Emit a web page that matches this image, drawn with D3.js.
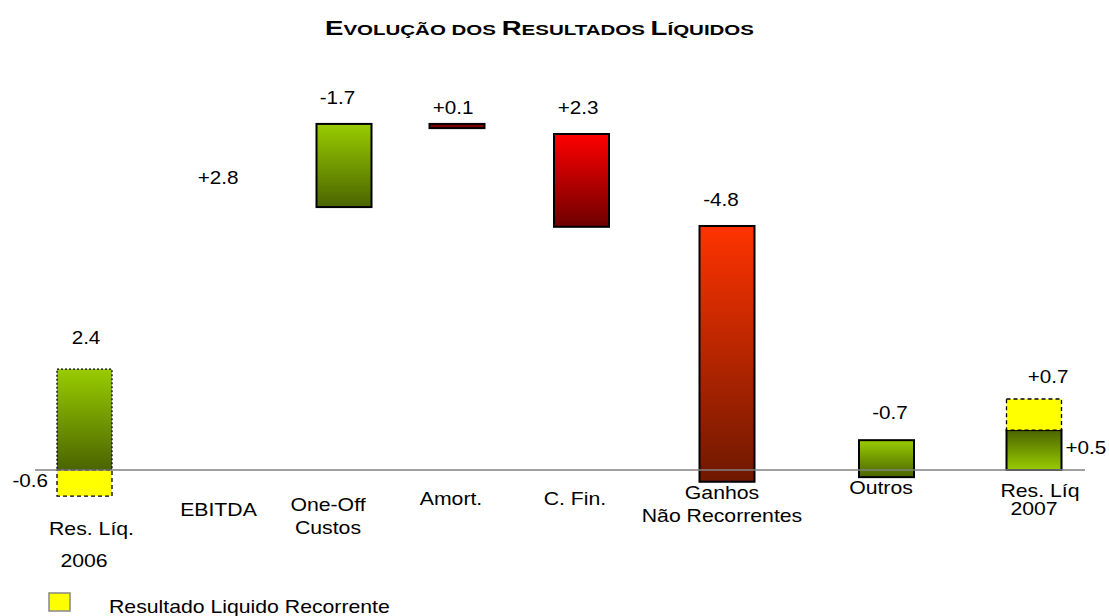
<!doctype html>
<html>
<head>
<meta charset="utf-8">
<style>
  body { margin: 0; background: #fff; }
  text { font-family: "Liberation Sans", Arial, sans-serif; fill: #000; }
  .title { font-weight: bold; }
</style>
<script src="https://cdn.jsdelivr.net/npm/d3@7"></script>
</head>
<body>
<script>

// categories (waterfall steps)
var categories = ["Res2006", "EBITDA", "OneOff", "Amort", "CFin", "Ganhos", "Outros", "Res2007"];

// axis labels, one array of lines per category
var catLabels = [["Res. Líq.", "2006"], ["EBITDA"], ["One-Off", "Custos"], ["Amort."], ["C. Fin."],
                 ["Ganhos", "Não Recorrentes"], ["Outros"], ["Res. Líq", "2007"]];

// floating bars: category, low, high (chart units), style
var barCat   = ["Res2006", "Res2006", "OneOff", "Amort", "CFin", "Ganhos", "Outros", "Res2007", "Res2007"];
var barLow   = [0,     -0.62, 6.26, 8.14, 5.79, -0.28, -0.17, 0,    0.95];
var barHigh  = [2.4,    0,    8.24, 8.24, 8.0,   5.81,  0.71, 0.95, 1.69];
var barStyle = ["green-dot", "yellow-dash", "green", "amort", "red", "orange", "green", "green-up", "yellow-dash"];

// value labels and the chart level they sit at
var valText = ["2.4", "-0.6", "+2.8", "-1.7", "+0.1", "+2.3", "-4.8", "-0.7", "+0.7", "+0.5"];
var valCat  = ["Res2006", "Res2006", "EBITDA", "OneOff", "Amort", "CFin", "Ganhos", "Outros", "Res2007", "Res2007"];
var valAt   = [3.0, -0.40, 6.81, 8.71, 8.48, 8.48, 6.29, 1.21, 2.08, 0.37];

var W = 1109, H = 616;
var stretch = 1.18;   // the original slide text is a bit wide

var svg = d3.select("body").append("svg")
    .attr("width", W)
    .attr("height", H);

var x = d3.scaleOrdinal()
    .domain(categories)
    .range([84.5, 218, 344, 457, 581.5, 727, 886.5, 1034]);

var y = d3.scaleLinear()
    .domain([-1, 9])
    .range([512, 92]);

var barW = 55;

// gradients
var defs = svg.append("defs");
function grad(id, top, bottom) {
  var g = defs.append("linearGradient").attr("id", id)
      .attr("x1", 0).attr("y1", 0).attr("x2", 0).attr("y2", 1);
  g.append("stop").attr("offset", "0%").attr("stop-color", top);
  g.append("stop").attr("offset", "100%").attr("stop-color", bottom);
}
grad("gGreen", "#99cc00", "#4a6400");
grad("gGreenUp", "#4a6400", "#99cc00");
grad("gRed", "#ff0000", "#6e0000");
grad("gOrange", "#ff3300", "#6e1800");

var styles = {
  "green-dot":   { fill: "url(#gGreen)", dash: "2,2" },
  "yellow-dash": { fill: "#ffff00", dash: "4,3" },
  "green":       { fill: "url(#gGreen)", dash: null },
  "green-up":    { fill: "url(#gGreenUp)", dash: null },
  "amort":       { fill: "#800000", dash: null },
  "red":         { fill: "url(#gRed)", dash: null },
  "orange":      { fill: "url(#gOrange)", dash: null }
};

var bars = barCat.map(function(c, i) {
  return { cat: c, lo: barLow[i], hi: barHigh[i], style: barStyle[i] };
});

// text helper: stretched horizontally around its anchor point
function label(px, py, str, size, anchor) {
  return svg.append("g")
      .attr("transform", "translate(" + px + "," + py + ") scale(" + stretch + ",1)")
    .append("text")
      .attr("text-anchor", anchor || "middle")
      .style("font-size", size + "px")
      .text(str);
}

// title
var title = svg.append("text")
    .attr("class", "title")
    .attr("x", 325)
    .attr("y", 35)
    .attr("textLength", 429)
    .attr("lengthAdjust", "spacingAndGlyphs");
[["E", 19.5], ["VOLUÇÃO DOS ", 14.5], ["R", 19.5], ["ESULTADOS ", 14.5], ["L", 19.5], ["ÍQUIDOS", 14.5]]
  .forEach(function(p) {
    title.append("tspan").style("font-size", p[1] + "px").text(p[0]);
  });

// bars
svg.selectAll("rect.bar")
  .data(bars)
  .enter().append("rect")
    .attr("class", "bar")
    .attr("x", function(d) { return x(d.cat) - barW / 2; })
    .attr("y", function(d) { return y(d.hi); })
    .attr("width", barW)
    .attr("height", function(d) { return y(d.lo) - y(d.hi); })
    .attr("fill", function(d) { return styles[d.style].fill; })
    .attr("stroke", "#000")
    .attr("stroke-width", function(d) { return styles[d.style].dash ? 1.3 : 2; })
    .attr("stroke-dasharray", function(d) { return styles[d.style].dash; });

// baseline
svg.append("line")
    .attr("x1", 35).attr("x2", 1085)
    .attr("y1", y(0)).attr("y2", y(0))
    .attr("stroke", "#808080")
    .attr("stroke-width", 1.5);

// value labels
valText.forEach(function(d, i) {
  var px = x(valCat[i]), anchor = "middle";
  if (d === "-0.6") { px = px - barW / 2 - 9; anchor = "end"; }
  else if (d === "+0.5") { px = px + barW / 2 + 4; anchor = "start"; }
  else if (valCat[i] === "Res2006") px += 1.5;
  else if (valCat[i] === "OneOff") px -= 6.5;
  else if (valCat[i] === "Amort") px -= 4;
  else if (valCat[i] === "CFin") px -= 3.5;
  else if (valCat[i] === "Ganhos") px -= 6;
  else if (valCat[i] === "Outros") px += 3.5;
  else if (valCat[i] === "Res2007") px += 14;
  label(px, y(valAt[i]), d, 17.5, anchor);
});

// category labels, staggered like the original slide
var labelX1   = [91.5, 218.5, 328, 451, 575, 722, 881, 1040];
var labelX2   = [84, 0, 328, 0, 0, 722, 0, 1034];
var labelBase = [535, 516, 511, 505, 505, 499, 494, 497];
var labelStep = [32, 0, 23, 0, 0, 23, 0, 18];
categories.forEach(function(c, i) {
  catLabels[i].forEach(function(line, j) {
    label(j ? labelX2[i] : labelX1[i], labelBase[i] + j * labelStep[i], line, 18);
  });
});

// legend
svg.append("rect")
    .attr("x", 49).attr("y", 593)
    .attr("width", 21).attr("height", 18)
    .attr("fill", "#ffff00")
    .attr("stroke", "#888")
    .attr("stroke-width", 1.5);
label(109, 613, "Resultado Liquido Recorrente", 18, "start");

</script>
</body>
</html>
